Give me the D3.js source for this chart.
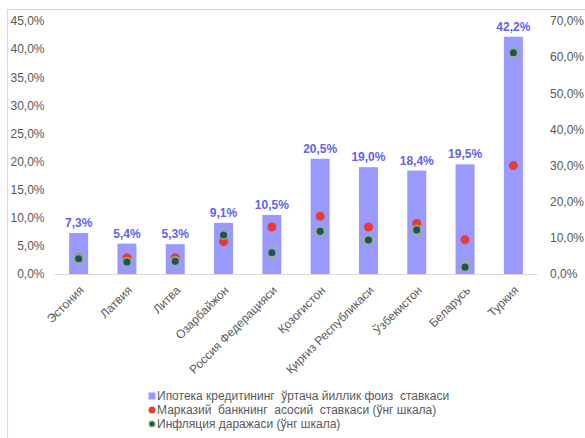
<!DOCTYPE html>
<html><head><meta charset="utf-8">
<script src="https://cdn.jsdelivr.net/npm/d3@7"></script>
<style>html,body{margin:0;padding:0;background:#fff;}svg{display:block;font-family:"Liberation Sans",Arial,sans-serif;}</style>
</head><body>
<svg id="chart" width="585" height="438"></svg>
<script>
const categories = ["Эстония","Латвия","Литва","Озарбайжон","Россия Федерацияси","Қозоғистон","Қирғиз Республикаси","Ўзбекистон","Беларусь","Туркия"];
const mortgageRate = [7.3, 5.4, 5.3, 9.1, 10.5, 20.5, 19.0, 18.4, 19.5, 42.2];
const policyRate   = [4.5, 4.5, 4.5, 9.0, 13.0, 16.0, 13.0, 14.0, 9.5, 30.0];
const inflation    = [4.2, 3.3, 3.5, 10.8, 5.9, 11.8, 9.4, 12.2, 1.9, 61.2];
const leftTicks  = [0,5,10,15,20,25,30,35,40,45];
const rightTicks = [0,10,20,30,40,50,60,70];
const legendLabels = ["Ипотека кредитининг  ўртача йиллик фоиз  ставкаси","Марказий  банкнинг  асосий  ставкаси (ўнг шкала)","Инфляция даражаси (ўнг шкала)"];

const fmt = v => v.toFixed(1).replace(".", ",") + "%";
const svg = d3.select("#chart");
const W = 585, H = 438;
const x0 = 54.5, x1 = 537.5, yBase = 274, yTop = 21;

svg.append("rect").attr("x",7.5).attr("y",9.5).attr("width",W).attr("height",H)
  .attr("fill","none").attr("stroke","#d9d9d9").attr("stroke-width",1.2);

const step = (x1-x0)/categories.length;
const pin = 1 - 19/step;
const x = d3.scaleBand().domain(categories).range([x0,x1]).paddingInner(pin).paddingOuter(pin/2);
const yL = d3.scaleLinear().domain([0,45]).range([yBase,yTop]);
const yR = d3.scaleLinear().domain([0,70]).range([yBase,yTop]);

// left axis
const axL = svg.append("g").attr("transform",`translate(${x0-10},0)`)
  .call(d3.axisLeft(yL).tickValues(leftTicks).tickFormat(fmt).tickSize(0).tickPadding(0));
axL.select(".domain").remove();
axL.selectAll("text").attr("font-size",12).attr("fill","#595959").attr("font-family","Liberation Sans, Arial, sans-serif");

// right axis
const axR = svg.append("g").attr("transform",`translate(550,0)`)
  .call(d3.axisRight(yR).tickValues(rightTicks).tickFormat(fmt).tickSize(0).tickPadding(0));
axR.select(".domain").remove();
axR.selectAll("text").attr("font-size",12).attr("fill","#595959").attr("font-family","Liberation Sans, Arial, sans-serif");

// bars
svg.append("g").selectAll("rect").data(categories).join("rect")
  .attr("x", d => x(d)).attr("width", x.bandwidth())
  .attr("y", (d,i) => yL(mortgageRate[i])).attr("height", (d,i) => yBase - yL(mortgageRate[i]))
  .attr("fill","#9999ff");

// baseline
svg.append("line").attr("x1",x0).attr("x2",x1).attr("y1",yBase+0.5).attr("y2",yBase+0.5)
  .attr("stroke","#d9d9d9").attr("stroke-width",1.2);

// data labels
svg.append("g").selectAll("text").data(categories).join("text")
  .attr("x", d => x(d) + x.bandwidth()/2).attr("y", (d,i) => yL(mortgageRate[i]) - 6)
  .attr("text-anchor","middle").attr("font-size",12).attr("font-weight","bold").attr("fill","#6262f5")
  .text((d,i) => fmt(mortgageRate[i]));

// policy rate (red)
svg.append("g").selectAll("circle").data(categories).join("circle")
  .attr("cx", d => x(d) + x.bandwidth()/2).attr("cy", (d,i) => yR(policyRate[i]))
  .attr("r",4.5).attr("fill","#ea3b30");

// inflation
svg.append("g").selectAll("circle").data(categories).join("circle")
  .attr("cx", d => x(d) + x.bandwidth()/2).attr("cy", (d,i) => yR(inflation[i]))
  .attr("r",4.3).attr("fill","#1f4e79").attr("stroke","#92c050").attr("stroke-width",1.5);

// x labels
svg.append("g").selectAll("text").data(categories).join("text")
  .attr("transform", d => `translate(${x(d)+x.bandwidth()/2+3},${yBase+14}) rotate(-45)`)
  .attr("text-anchor","end").attr("dy","0.35em").attr("font-size",12).attr("fill","#595959")
  .text(d => d);

// legend
const lg = svg.append("g").attr("transform","translate(152,0)");
const ly = [396, 410, 424];
lg.append("rect").attr("x",-3.5).attr("y",ly[0]-3.5).attr("width",7).attr("height",7).attr("fill","#9999ff");
lg.append("circle").attr("cx",0).attr("cy",ly[1]).attr("r",3.5).attr("fill","#ea3b30");
lg.append("circle").attr("cx",0).attr("cy",ly[2]).attr("r",3).attr("fill","#1f4e79").attr("stroke","#92c050").attr("stroke-width",1.2);
lg.selectAll("text").data(legendLabels).join("text")
  .attr("x",5).attr("y",(d,i)=>ly[i]).attr("dy","0.35em").attr("font-size",12).attr("fill","#595959")
  .attr("xml:space","preserve")
  .text(d => d);
</script>
</body></html>
